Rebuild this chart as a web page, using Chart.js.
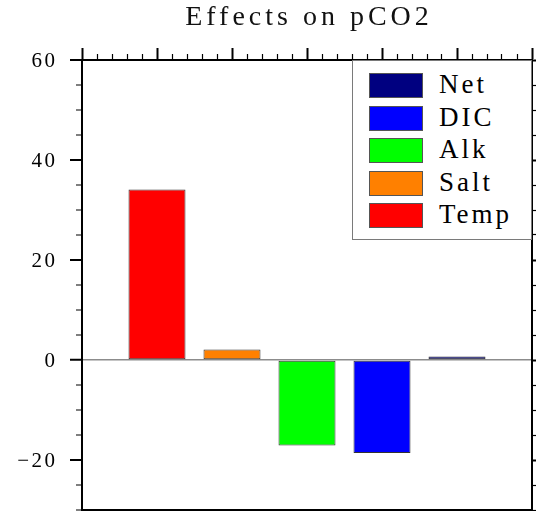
<!DOCTYPE html>
<html>
<head>
<meta charset="utf-8">
<title>Effects on pCO2</title>
<script src="https://cdn.jsdelivr.net/npm/chart.js@4/dist/chart.umd.min.js"></script>
<style>
  html, body { margin: 0; padding: 0; background: #fff; overflow: hidden; }
  #wrap { position: relative; width: 536px; height: 511px; }
  #legend {
    position: absolute; box-sizing: border-box;
    border: 1px solid #7a7a7a; background: #fff;
    font-family: "Liberation Serif", serif; font-size: 27px;
    letter-spacing: 3px; color: #000;
  }
  #legend .item { position: absolute; left: 16px; height: 25px; display: flex; align-items: center; line-height: 25px; }
  #legend .swatch { width: 54px; height: 25px; box-sizing: border-box; border: 1px solid #555; margin-right: 16px; }
  #legend .label { position: relative; top: -1px; }
</style>
</head>
<body>
<div id="wrap">
  <canvas id="chart" width="536" height="511"></canvas>
  <div id="legend"></div>
</div>
<script>
// Contributions to the pCO2 change (each bar sits at its own x position)
const categories = ['Temp', 'Salt', 'Alk', 'DIC', 'Net'];
const xPositions = [1, 2, 3, 4, 5];
const values = [34.1, 2.1, -17.1, -18.6, 0.7];
const barColors = ['#ff0000', '#ff8000', '#00ff00', '#0000ff', '#000080'];
const legendOrder = ['Net', 'DIC', 'Alk', 'Salt', 'Temp'];

// Axis ranges and tick layout
const yRange = [-30, 60];
const yMajorTicks = [-20, 0, 20, 40, 60];
const yMinorStep = 5;
const xRange = [0, 6];
const xMajorStep = 1;
const xMinorStep = 0.2;

function stepTicks(lo, hi, step) {
  const out = [];
  const n = Math.round((hi - lo) / step);
  for (let i = 0; i <= n; i++) out.push(+(lo + i * step).toFixed(6));
  return out;
}
const yTicks = stepTicks(yRange[0], yRange[1], yMinorStep);
const xTicks = stepTicks(xRange[0], xRange[1], xMinorStep);
const xMajorTicks = stepTicks(xRange[0], xRange[1], xMajorStep);
const isYMajor = v => yMajorTicks.includes(v);
const isXMajor = v => Math.abs(v - Math.round(v)) < 1e-6;
const tickVal = c => (c && c.tick) ? c.tick.value : null;

// Outward tick marks: long for major ticks, half length for minor ones
function frameAxis(position, range, ticks, isMajor, size) {
  const horizontal = position === 'top' || position === 'bottom';
  const outerFirst = position === 'left' || position === 'top';
  const major = c => { const v = tickVal(c); return v === null || isMajor(v); };
  return {
    type: 'linear',
    position,
    offset: false,
    min: range[0],
    max: range[1],
    afterBuildTicks: s => { s.ticks = ticks.map(v => ({ value: v })); },
    afterFit: s => {
      if (horizontal) s.height = size; else s.width = size;
      s.paddingTop = 0; s.paddingBottom = 0; s.paddingLeft = 0; s.paddingRight = 0;
    },
    grid: {
      offset: false,
      drawOnChartArea: false,
      drawTicks: true,
      tickLength: 12,
      tickColor: '#000',
      tickWidth: c => major(c) ? 2 : 1.2,
      tickBorderDash: c => major(c) ? [] : (outerFirst ? [0, 6, 6, 100] : [6, 100])
    },
    border: { display: true, color: '#000', width: 2 },
    ticks: { display: false, autoSkip: false }
  };
}

const yLeft = frameAxis('left', yRange, yTicks, isYMajor, 82);
yLeft.ticks = {
  display: true,
  autoSkip: false,
  padding: 12.5,
  labelOffset: 1.5,
  color: '#000',
  font: { family: "'Liberation Serif', serif", size: 21 },
  callback: v => isYMajor(v) ? String(v).replace('-', '\u2212') : ''
};
// zero reference line across the plot
yLeft.grid.drawOnChartArea = true;
yLeft.grid.color = c => tickVal(c) === 0 ? '#8c8c8c' : 'rgba(0,0,0,0)';
yLeft.grid.lineWidth = c => tickVal(c) === 0 ? 1.5 : 0;

const TICK_SPACING = 2.5;
const TITLE_SPACING = 4;
const textSpacing = {
  id: 'textSpacing',
  beforeDraw(chart) {
    chart.ctx.letterSpacing = TICK_SPACING + 'px';
    const t = chart.titleBlock;
    if (t && !t._spaced) {
      const draw = t.draw.bind(t);
      t.draw = function (area) {
        const ctx = chart.ctx;
        const a = chart.chartArea;
        ctx.save();
        ctx.letterSpacing = TITLE_SPACING + 'px';
        // centre the spaced title over the plot frame
        ctx.translate((a.left + a.right) / 2 - (t.left + t.right) / 2 + TITLE_SPACING / 2, 0);
        draw(area);
        ctx.restore();
      };
      t._spaced = true;
    }
  }
};

const legendBox = {
  id: 'legendBox',
  afterLayout(chart) {
    const a = chart.chartArea;
    const el = document.getElementById('legend');
    const w = 180, h = 180;
    el.style.left = (a.right - w) + 'px';
    el.style.top = a.top + 'px';
    el.style.width = w + 'px';
    el.style.height = h + 'px';
    if (!el.childElementCount) {
      legendOrder.forEach((name, i) => {
        const k = categories.indexOf(name);
        const item = document.createElement('div');
        item.className = 'item';
        item.style.top = (12 + 32.5 * i) + 'px';
        const sw = document.createElement('span');
        sw.className = 'swatch';
        sw.style.background = barColors[k];
        const lb = document.createElement('span');
        lb.className = 'label';
        lb.textContent = name;
        item.appendChild(sw);
        item.appendChild(lb);
        el.appendChild(item);
      });
    }
  }
};

new Chart(document.getElementById('chart'), {
  type: 'bar',
  data: {
    datasets: [{
      label: 'pCO2',
      data: xPositions.map((x, i) => ({ x, y: values[i] })),
      backgroundColor: barColors,
      borderColor: '#333333',
      borderWidth: 1,
      borderSkipped: false,
      categoryPercentage: 1,
      barPercentage: 0.76
    }]
  },
  options: {
    responsive: false,
    animation: false,
    layout: { padding: { top: 0, left: 0, right: 4, bottom: 0 } },
    scales: {
      x: frameAxis('bottom', xRange, xMajorTicks, isXMajor, 1),
      xTop: frameAxis('top', xRange, xTicks, isXMajor, 12),
      y: yLeft,
      yRight: frameAxis('right', yRange, yTicks, isYMajor, 0)
    },
    plugins: {
      legend: { display: false },
      tooltip: { enabled: false },
      title: {
        display: true,
        text: 'Effects on pCO2',
        fullSize: false,
        color: '#111',
        font: { family: "'Liberation Serif', serif", size: 28, weight: 'normal', lineHeight: 1.2 },
        padding: { top: 1, bottom: 13.4 }
      }
    }
  },
  plugins: [textSpacing, legendBox]
});
</script>
</body>
</html>
